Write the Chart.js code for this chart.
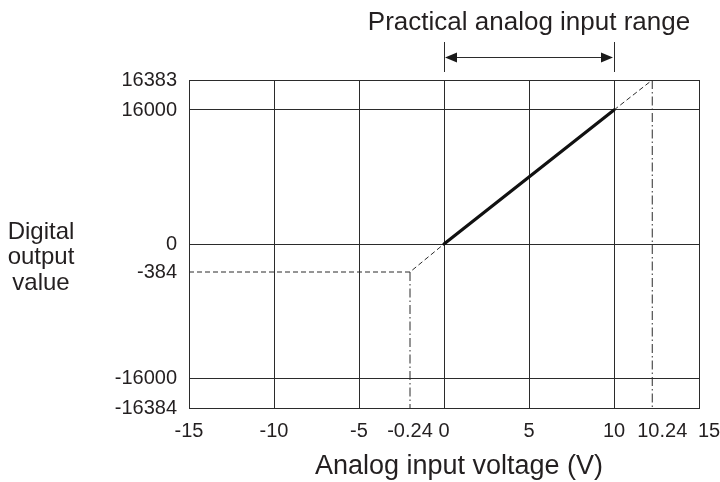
<!DOCTYPE html>
<html>
<head>
<meta charset="utf-8">
<script src="https://cdn.jsdelivr.net/npm/chart.js@4.4.1/dist/chart.umd.min.js"></script>
<style>
  html, body { margin: 0; padding: 0; background: #fff; }
  #wrap { width: 720px; height: 482px; }
</style>
</head>
<body>
<div id="wrap"><canvas id="chart"></canvas></div>
<script>
// axis ticks (real values) and where they sit on the schematic (non-linear) axes
const voltTicks = [-15, -10, -5, -0.24, 0, 5, 10, 10.24, 15];
const voltSpots = [-15, -10, -5, -2, 0, 5, 10, 12.25, 15];
const countTicks = [-16384, -16000, -384, 0, 16000, 16383];
const countSpots = [-164, -134, -28, 0, 134, 164];
const noGridVolts = [-0.24, 10.24];
const noGridCounts = [-384];
const nudgedVolts = [10.24, 15]; // labels sit a little right of their line

// conversion characteristic
const rangeVolts = [0, 10];
const rangeCounts = [0, 16000];
const lowVolts = [-15, -0.24, 0];
const lowCounts = [-384, -384, 0];
const highVolts = [10, 10.24];
const highCounts = [16000, 16383];
const lowLimitVolts = [-0.24, -0.24];
const lowLimitCounts = [-384, -16384];
const highLimitVolts = [10.24, 10.24];
const highLimitCounts = [16383, -16384];

const textColor = "#231f20";
const lineColor = "#2b2b2b";
const fontFamily = '"Liberation Sans", Arial, Helvetica, sans-serif';

const pts = (xs, ys) => xs.map((x, i) => ({ x, y: ys[i] }));

// linear scale whose ticks are placed at hand-picked spots, like the drawing
class SchematicScale extends Chart.LinearScale {
  buildTicks() {
    return this.options.stops.map((value) => ({ value }));
  }
  toSpot(value) {
    const stops = this.options.stops;
    const spots = this.options.spots;
    let i = 1;
    while (i < stops.length - 1 && value > stops[i]) i++;
    const t = (value - stops[i - 1]) / (stops[i] - stops[i - 1]);
    return spots[i - 1] + t * (spots[i] - spots[i - 1]);
  }
  fromSpot(spot) {
    const stops = this.options.stops;
    const spots = this.options.spots;
    let i = 1;
    while (i < spots.length - 1 && spot > spots[i]) i++;
    const t = (spot - spots[i - 1]) / (spots[i] - spots[i - 1]);
    return stops[i - 1] + t * (stops[i] - stops[i - 1]);
  }
  getPixelForValue(value) {
    if (value === null || value === undefined || isNaN(value)) return NaN;
    const spots = this.options.spots;
    const first = spots[0];
    const last = spots[spots.length - 1];
    return this.getPixelForDecimal((this.toSpot(value) - first) / (last - first));
  }
  getValueForPixel(pixel) {
    const spots = this.options.spots;
    const first = spots[0];
    const last = spots[spots.length - 1];
    return this.fromSpot(first + this.getDecimalForPixel(pixel) * (last - first));
  }
}
SchematicScale.id = "schematic";
SchematicScale.defaults = {};
Chart.register(SchematicScale);

const annotations = {
  id: "annotations",
  afterDraw(chart) {
    const { ctx } = chart;
    const x = chart.scales.x;
    const x0 = x.getPixelForValue(rangeVolts[0]);
    const x1 = x.getPixelForValue(rangeVolts[1]);
    ctx.save();
    ctx.fillStyle = textColor;
    ctx.strokeStyle = lineColor;
    ctx.lineWidth = 1;
    ctx.textAlign = "center";
    ctx.textBaseline = "middle";
    ctx.font = `26px ${fontFamily}`;
    ctx.fillText("Practical analog input range", (x0 + x1) / 2, 23);

    // range bracket with arrows
    const ay = 57;
    ctx.beginPath();
    ctx.moveTo(Math.round(x0) + 0.5, 42);
    ctx.lineTo(Math.round(x0) + 0.5, 72);
    ctx.moveTo(Math.round(x1) + 0.5, 42);
    ctx.lineTo(Math.round(x1) + 0.5, 72);
    ctx.moveTo(x0 + 10, ay + 0.5);
    ctx.lineTo(x1 - 10, ay + 0.5);
    ctx.stroke();
    ctx.fillStyle = "#1a1a1a";
    ctx.beginPath();
    ctx.moveTo(x0 + 1, ay + 0.5);
    ctx.lineTo(x0 + 13, ay - 4.5);
    ctx.lineTo(x0 + 13, ay + 5.5);
    ctx.closePath();
    ctx.moveTo(x1 - 1, ay + 0.5);
    ctx.lineTo(x1 - 13, ay - 4.5);
    ctx.lineTo(x1 - 13, ay + 5.5);
    ctx.closePath();
    ctx.fill();

    ctx.fillStyle = textColor;
    ctx.font = `27px ${fontFamily}`;
    ctx.fillText("Analog input voltage (V)", 459, 467);
    ctx.font = `24px ${fontFamily}`;
    ["Digital", "output", "value"].forEach((line, i) => {
      ctx.fillText(line, 41, 232 + i * 25.5);
    });
    ctx.restore();
  },
};

const tickFont = { family: fontFamily, size: 20 };

new Chart(document.getElementById("chart"), {
  type: "line",
  data: {
    datasets: [
      {
        label: "Practical range",
        data: pts(rangeVolts, rangeCounts),
        borderColor: "#111",
        borderWidth: 3.2,
        borderCapStyle: "round",
      },
      {
        label: "Below range",
        data: pts(lowVolts, lowCounts),
        borderColor: lineColor,
        borderWidth: 1,
        borderDash: [5, 3],
      },
      {
        label: "Above range",
        data: pts(highVolts, highCounts),
        borderColor: lineColor,
        borderWidth: 1,
        borderDash: [5, 3],
      },
      {
        label: "Lower limit",
        data: pts(lowLimitVolts, lowLimitCounts),
        borderColor: lineColor,
        borderWidth: 1,
        borderDash: [9, 3, 1.5, 3],
      },
      {
        label: "Upper limit",
        data: pts(highLimitVolts, highLimitCounts),
        borderColor: lineColor,
        borderWidth: 1,
        borderDash: [9, 3, 1.5, 3],
      },
    ],
  },
  options: {
    responsive: true,
    maintainAspectRatio: false,
    animation: false,
    layout: { padding: { top: 80, right: 21, left: 0, bottom: 0 } },
    elements: { point: { radius: 0 }, line: { tension: 0 } },
    plugins: {
      legend: { display: false },
      tooltip: { enabled: false },
    },
    scales: {
      x: {
        type: "schematic",
        position: "bottom",
        min: -15,
        max: 15,
        stops: voltTicks,
        spots: voltSpots,
        afterFit: (s) => {
          s.height = 74;
          s.paddingLeft = 0;
          s.paddingRight = 0;
        },
        grid: {
          drawTicks: false,
          lineWidth: 1,
          color: (c) => (noGridVolts.includes(c.tick && c.tick.value) ? "rgba(0,0,0,0)" : lineColor),
        },
        border: { color: lineColor, width: 1 },
        ticks: {
          autoSkip: false,
          maxRotation: 0,
          padding: 11,
          color: textColor,
          font: tickFont,
          callback: (v) => (nudgedVolts.includes(v) ? "\u2002\u2002" + v : String(v)),
        },
      },
      y: {
        type: "schematic",
        position: "left",
        min: -16384,
        max: 16383,
        stops: countTicks,
        spots: countSpots,
        afterFit: (s) => {
          s.width = 189;
          s.paddingTop = 0;
          s.paddingBottom = 0;
        },
        grid: {
          drawTicks: false,
          lineWidth: 1,
          color: (c) => (noGridCounts.includes(c.tick && c.tick.value) ? "rgba(0,0,0,0)" : lineColor),
        },
        border: { color: lineColor, width: 1 },
        ticks: {
          autoSkip: false,
          padding: 12,
          color: textColor,
          font: tickFont,
          callback: (v) => String(v),
        },
      },
    },
  },
  plugins: [annotations],
});
</script>
</body>
</html>
